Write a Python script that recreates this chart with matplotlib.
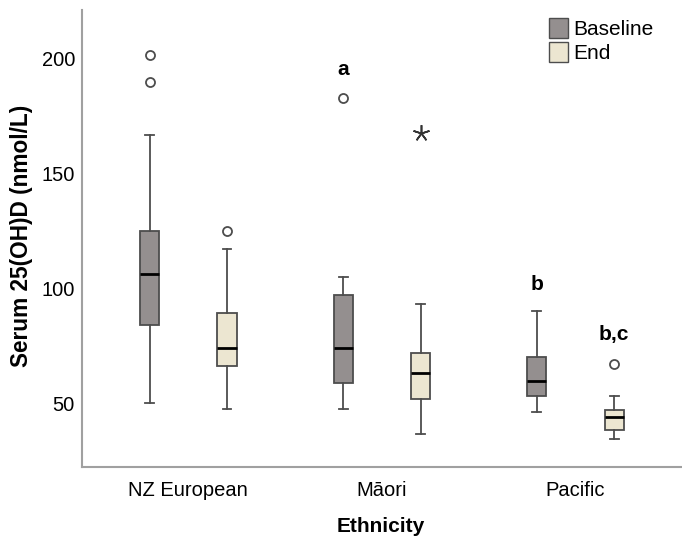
import matplotlib
matplotlib.use("Agg")
import matplotlib.pyplot as plt
from matplotlib.patches import Patch

plt.rcParams['font.family'] = ['Liberation Sans', 'DejaVu Sans']

groups = ['NZ European', 'Māori', 'Pacific']
series = ['Baseline', 'End']

# box stats, order: NZ base, NZ end, Maori base, Maori end, Pacific base, Pacific end
whislo = [50, 47.5, 47.5, 36.5, 46, 34.5]
q1     = [84, 66, 59, 52, 53, 38.5]
med    = [106, 74, 74, 63, 59.5, 44]
q3     = [125, 89, 97, 72, 70, 47]
whishi = [166.5, 117, 105, 93, 90, 53]
outliers = [[189.5, 201.5], [125], [182.5], [], [], [67]]
extremes = [[], [], [], [167.5], [], []]

letters = ['', '', 'a', '', 'b', 'b,c']
letter_y = [0, 0, 195, 0, 101.5, 80]

colors = ['#948f8f', '#ece6d1']
edge = '#4d4d4d'

fig = plt.figure(figsize=(6.82, 5.42), dpi=100)
ax = fig.add_axes([0.120, 0.138, 0.88, 0.844])

offset = 0.2
stats = []
pos = []
for i in range(len(groups)):
    for j in range(len(series)):
        k = i * 2 + j
        stats.append(dict(med=med[k], q1=q1[k], q3=q3[k], whislo=whislo[k],
                          whishi=whishi[k], fliers=outliers[k]))
        pos.append(i + (j - 0.5) * 2 * offset)

bp = ax.bxp(stats, positions=pos, widths=0.1, patch_artist=True, showfliers=True,
            boxprops=dict(edgecolor=edge, linewidth=1.3),
            medianprops=dict(color='black', linewidth=2),
            whiskerprops=dict(color=edge, linewidth=1.3),
            capprops=dict(color=edge, linewidth=1.3),
            capwidths=0.045,
            flierprops=dict(marker='o', markersize=6.5, markerfacecolor='white',
                            markeredgecolor=edge, markeredgewidth=1.3))
for k, b in enumerate(bp['boxes']):
    b.set_facecolor(colors[k % 2])

for k in range(len(pos)):
    if extremes[k]:
        ax.plot([pos[k]] * len(extremes[k]), extremes[k], linestyle='none',
                marker=(5, 2, 0), markersize=12, color='#333333', markeredgewidth=1.2)
    if letters[k]:
        ax.text(pos[k], letter_y[k], letters[k], ha='center', va='center',
                fontsize=15, fontweight='bold')

ax.set_xlim(-0.55, 2.55)
ax.set_ylim(22.2, 221)
ax.set_xticks(range(len(groups)))
ax.set_xticklabels(groups, fontsize=14.5)
ax.set_yticks([50, 100, 150, 200])
ax.tick_params(axis='both', length=0, labelsize=14.5)
ax.tick_params(axis='x', pad=10)
ax.tick_params(axis='y', pad=5)
for s in ['top', 'right']:
    ax.spines[s].set_visible(False)
for s in ['left', 'bottom']:
    ax.spines[s].set_color('#a0a0a0')
    ax.spines[s].set_linewidth(1.5)

ax.set_xlabel('Ethnicity', fontsize=15, fontweight='bold')
ax.set_ylabel('Serum 25(OH)D (nmol/L)', fontsize=16.3, fontweight='bold')
ax.xaxis.set_label_coords(0.498, -0.109)
ax.yaxis.set_label_coords(-0.081, 0.505)

handles = [Patch(facecolor=colors[0], edgecolor=edge, label=series[0]),
           Patch(facecolor=colors[1], edgecolor=edge, label=series[1])]
ax.legend(handles=handles, loc='upper right', bbox_to_anchor=(0.973, 1.01), frameon=False,
          fontsize=15, handlelength=0.9, handleheight=1.1, handletextpad=0.25,
          labelspacing=0.15, borderaxespad=0.2)

fig.savefig('out.png', dpi=100)
